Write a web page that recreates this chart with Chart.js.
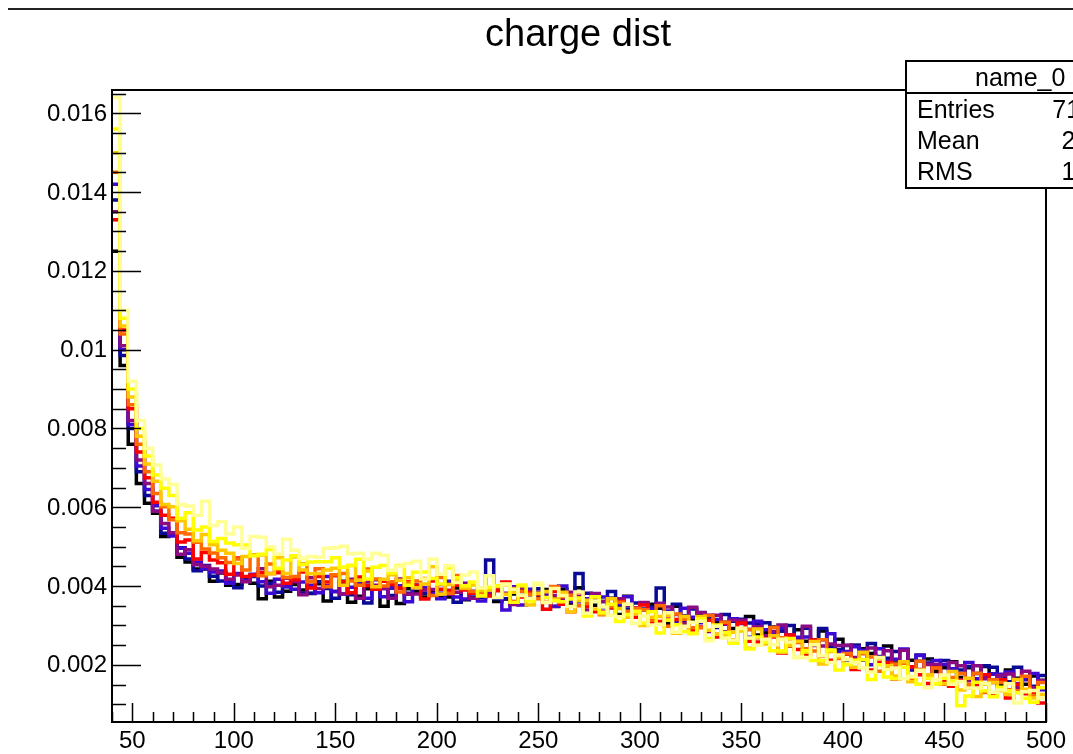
<!DOCTYPE html>
<html>
<head>
<meta charset="utf-8">
<title>charge dist</title>
<script src="https://cdn.jsdelivr.net/npm/chart.js@4/dist/chart.umd.min.js"></script>
<style>
    html, body { margin: 0; padding: 0; background: #ffffff; }
    #chargeChart { display: block; }
</style>
</head>
<body>
<canvas id="chargeChart" width="1073" height="754"></canvas>
<script>
// ===== DATA (bin contents in units of 1e-5, bins of 4 starting at 40) =====

const binStart = 40;
const binEnd = 500;
const binWidth = 4;

const xTicks = [50, 100, 150, 200, 250, 300, 350, 400, 450, 500];
const yTicks = [0.002, 0.004, 0.006, 0.008, 0.01, 0.012, 0.014, 0.016];

const seriesNames = ['h0', 'h1', 'h2', 'h3', 'h4', 'h5', 'h6', 'h7', 'h8'];
const seriesColors = ['#000000', '#0a0a96', '#3c0ad2', '#8c0a82', '#ff0000', '#ff6a00', '#ffc800', '#ffff00', '#ffff96'];

const h0 = [1250, 960, 760, 660, 610,
    585, 526, 531, 473, 461, 443, 443, 412, 433, 402,
    404, 416, 407, 368, 412, 372, 387, 404, 390, 381,
    406, 362, 386, 412, 359, 374, 393, 392, 349, 395,
    356, 393, 387, 372, 388, 371, 372, 395, 365, 369,
    389, 380, 361, 367, 380, 389, 367, 371, 391, 348,
    392, 353, 396, 353, 351, 361, 369, 328, 374, 339,
    340, 354, 344, 305, 349, 324, 315, 331, 314, 308,
    308, 292, 306, 323, 276, 282, 296, 286, 248, 289,
    260, 263, 286, 236, 265, 213, 250, 241, 229, 202,
    248, 205, 205, 212, 209, 215, 183, 193, 208, 168,
    193, 178, 196, 177, 151, 187, 166, 151, 172, 161];

const h1 = [1380, 985, 800, 690, 630,
    590, 534, 533, 497, 469, 439, 452, 425, 413, 412,
    396, 423, 424, 400, 407, 384, 398, 416, 382, 382,
    411, 394, 369, 406, 378, 412, 357, 397, 394, 376,
    395, 382, 399, 382, 377, 382, 389, 359, 407, 372,
    371, 466, 368, 368, 389, 376, 371, 393, 374, 371,
    382, 365, 432, 382, 365, 345, 386, 351, 342, 357,
    342, 347, 395, 325, 354, 307, 342, 333, 321, 295,
    328, 311, 316, 306, 303, 307, 275, 286, 300, 261,
    293, 254, 292, 246, 239, 249, 249, 212, 254, 221,
    217, 234, 238, 187, 225, 205, 192, 211, 190, 187,
    196, 161, 198, 194, 172, 157, 194, 168, 146, 173];

const h2 = [1420, 1000, 810, 705, 645,
    604, 547, 527, 496, 483, 461, 444, 436, 438, 407,
    432, 414, 430, 411, 382, 417, 399, 392, 410, 402,
    383, 424, 386, 380, 397, 405, 369, 416, 373, 395,
    401, 360, 403, 396, 381, 368, 412, 372, 367, 387,
    362, 394, 397, 339, 398, 352, 392, 384, 376, 349,
    400, 360, 360, 368, 367, 372, 345, 355, 373, 332,
    356, 341, 356, 337, 308, 344, 321, 307, 326, 315,
    303, 317, 305, 270, 311, 289, 277, 294, 276, 270,
    271, 253, 264, 279, 232, 234, 246, 237, 200, 241,
    210, 214, 240, 191, 224, 174, 211, 201, 190, 162,
    206, 165, 167, 177, 176, 182, 152, 162, 178, 137];

const h3 = [1350, 1010, 820, 720, 660,
    590, 559, 535, 481, 492, 454, 450, 443, 434, 417,
    428, 411, 426, 444, 398, 402, 420, 411, 378, 421,
    394, 401, 427, 380, 417, 369, 410, 402, 394, 369,
    418, 379, 380, 390, 391, 404, 379, 384, 406, 369,
    394, 382, 397, 382, 353, 395, 377, 370, 385, 376,
    369, 384, 373, 339, 381, 361, 349, 368, 351, 345,
    358, 316, 356, 347, 328, 305, 346, 332, 285, 326,
    284, 313, 313, 290, 297, 274, 285, 301, 263, 262,
    298, 249, 248, 253, 249, 250, 219, 229, 243, 204,
    236, 198, 237, 194, 188, 201, 201, 165, 206, 198,
    160, 198, 165, 155, 173, 177, 142, 184, 142, 160];

const h4 = [1330, 1050, 850, 740, 675,
    613, 580, 572, 512, 517, 469, 485, 466, 459, 430,
    471, 424, 428, 434, 432, 434, 407, 416, 436, 395,
    424, 410, 427, 411, 383, 423, 401, 392, 412, 404,
    395, 411, 402, 367, 413, 392, 389, 402, 390, 382,
    389, 375, 388, 410, 361, 372, 384, 380, 341, 387,
    354, 335, 383, 348, 335, 334, 345, 361, 323, 321,
    352, 308, 310, 316, 315, 317, 288, 296, 313, 271,
    305, 264, 306, 260, 258, 267, 271, 230, 276, 239,
    226, 263, 223, 212, 225, 227, 188, 230, 187, 206,
    206, 164, 204, 195, 175, 153, 193, 157, 146, 161,
    142, 148, 175, 128, 162, 116, 151, 127, 130, 103];

const h5 = [1450, 1040, 860, 760, 690,
    635, 601, 568, 535, 532, 511, 494, 484, 472, 460,
    469, 441, 479, 426, 456, 442, 422, 424, 456, 411,
    444, 398, 429, 432, 413, 402, 443, 418, 400, 411,
    385, 409, 413, 419, 376, 422, 382, 427, 394, 386,
    383, 394, 398, 404, 394, 387, 379, 368, 359, 399,
    373, 377, 350, 356, 371, 327, 348, 359, 336, 344,
    340, 313, 350, 298, 329, 316, 294, 294, 325, 278,
    308, 259, 289, 290, 269, 256, 295, 269, 248, 257,
    241, 235, 264, 236, 216, 229, 213, 229, 220, 184,
    193, 202, 204, 161, 209, 172, 192, 151, 168, 178,
    150, 179, 130, 162, 155, 137, 134, 171, 122, 155];

const h6 = [1500, 1060, 880, 780, 710,
    666, 607, 601, 566, 544, 515, 531, 505, 491, 483,
    457, 475, 478, 479, 431, 472, 432, 474, 441, 431,
    432, 441, 445, 402, 452, 415, 438, 398, 417, 429,
    415, 421, 396, 405, 449, 380, 404, 415, 395, 403,
    389, 390, 401, 379, 384, 400, 352, 382, 386, 367,
    384, 335, 363, 364, 342, 330, 368, 343, 321, 330,
    300, 321, 323, 326, 280, 323, 281, 323, 288, 278,
    275, 283, 286, 242, 291, 253, 274, 232, 250, 260,
    232, 259, 202, 234, 220, 201, 194, 232, 182, 216,
    198, 172, 208, 157, 187, 175, 152, 153, 183, 136,
    166, 120, 151, 155, 134, 125, 163, 138, 116, 125];

const h7 = [1560, 1080, 900, 800, 730,
    682, 648, 630, 572, 586, 542, 550, 513, 521, 509,
    505, 504, 477, 481, 493, 445, 466, 477, 455, 461,
    462, 462, 472, 448, 452, 468, 418, 448, 452, 433,
    452, 402, 435, 436, 419, 405, 446, 421, 401, 410,
    375, 397, 400, 404, 359, 403, 362, 406, 371, 363,
    360, 367, 370, 324, 373, 333, 354, 310, 328, 336,
    306, 335, 281, 314, 302, 285, 279, 317, 267, 301,
    282, 255, 292, 240, 271, 258, 236, 236, 267, 219,
    236, 211, 211, 238, 187, 201, 211, 213, 163, 200,
    169, 165, 194, 170, 151, 166, 152, 166, 159, 96,
    121, 156, 134, 119, 143, 134, 129, 115, 105, 142];

const h8 = [1640, 1100, 920, 820, 750,
    707, 672, 658, 607, 603, 580, 615, 554, 563, 532,
    550, 496, 526, 524, 500, 481, 519, 491, 470, 475,
    473, 496, 497, 501, 482, 483, 469, 483, 478, 440,
    450, 457, 463, 418, 469, 430, 452, 409, 428, 436,
    395, 426, 371, 405, 392, 376, 369, 408, 358, 394,
    376, 348, 385, 331, 362, 347, 325, 322, 354, 305,
    324, 301, 303, 332, 283, 298, 308, 311, 261, 298,
    268, 263, 293, 268, 250, 265, 251, 265, 258, 220,
    219, 251, 224, 206, 225, 214, 206, 192, 181, 219,
    188, 192, 165, 171, 186, 142, 163, 174, 151, 158,
    141, 141, 153, 130, 136, 152, 103, 132, 135, 116];

const allSeries = [h0, h1, h2, h3, h4, h5, h6, h7, h8];

// ===== LAYOUT =====

const FONT = '"Liberation Sans", Arial, Helvetica, sans-serif';
const frame = { left: 112, top: 90, right: 1046, bottom: 722 };

// bin contents -> step points at the low edge of each bin, closed at binEnd
function toSteps(values) {
    const pts = values.map((v, i) => ({ x: binStart + i * binWidth, y: v / 1e5 }));
    pts.push({ x: binEnd, y: values[values.length - 1] / 1e5 });
    return pts;
}

function fmtY(v) {
    return String(parseFloat(v.toFixed(3)));
}

// ROOT style frame, ticks, labels, title and stats box
const rootStyle = {
    id: 'rootStyle',
    afterDatasetsDraw(chart) {
        const ctx = chart.ctx;
        const xs = chart.scales.x;
        const ys = chart.scales.y;
        const a = chart.chartArea;
        ctx.save();

        // canvas border line at the top
        ctx.strokeStyle = '#222';
        ctx.lineWidth = 2;
        ctx.beginPath();
        ctx.moveTo(8, 9);
        ctx.lineTo(1073, 9);
        ctx.stroke();

        // frame
        ctx.strokeStyle = '#000';
        ctx.lineWidth = 2;
        ctx.strokeRect(a.left, a.top, a.right - a.left, a.bottom - a.top);

        // x ticks
        ctx.lineWidth = 1.5;
        ctx.beginPath();
        for (let v = 40; v <= 500; v += 10) {
            const px = Math.round(xs.getPixelForValue(v)) + 0.5;
            const len = v % 50 === 0 ? 19 : 10;
            ctx.moveTo(px, a.bottom);
            ctx.lineTo(px, a.bottom - len);
        }
        ctx.stroke();

        // y ticks (minor every 0.0005)
        ctx.beginPath();
        for (let k = 1; k <= 33; k++) {
            const v = k * 0.0005;
            if (v < ys.min || v > ys.max) continue;
            const py = Math.round(ys.getPixelForValue(v)) + 0.5;
            const len = k % 4 === 0 ? 29 : 14;
            ctx.moveTo(a.left, py);
            ctx.lineTo(a.left + len, py);
        }
        ctx.stroke();

        // tick labels
        ctx.fillStyle = '#000';
        ctx.font = '24px ' + FONT;
        ctx.textAlign = 'right';
        ctx.textBaseline = 'middle';
        yTicks.forEach(v => ctx.fillText(fmtY(v), a.left - 5, ys.getPixelForValue(v) + 1));
        ctx.textAlign = 'center';
        ctx.textBaseline = 'alphabetic';
        xTicks.forEach(v => ctx.fillText(String(v), xs.getPixelForValue(v), 748));

        // title
        ctx.font = '38px ' + FONT;
        ctx.fillText('charge dist', 578, 46);

        // stats box (runs off the right edge like the original)
        const bx = 906, by = 61, bw = 240, bh = 127;
        ctx.fillStyle = '#fff';
        ctx.fillRect(bx, by, bw, bh);
        ctx.strokeStyle = '#000';
        ctx.lineWidth = 2;
        ctx.strokeRect(bx, by, bw, bh);
        ctx.beginPath();
        ctx.moveTo(bx, 93);
        ctx.lineTo(bx + bw, 93);
        ctx.stroke();
        ctx.fillStyle = '#000';
        ctx.font = '25px ' + FONT;
        ctx.textAlign = 'left';
        ctx.fillText('name_0', 975, 86);
        ctx.fillText('Entries', 917, 118);
        ctx.fillText('Mean', 917, 149);
        ctx.fillText('RMS', 917, 180);
        ctx.textAlign = 'right';
        ctx.fillText('71136', 1120, 118);
        ctx.fillText('228.4', 1124, 149);
        ctx.fillText('129.7', 1124, 180);
        ctx.restore();
    }
};

// ===== CHART =====

function initChargeChart() {
    const ctx = document.getElementById('chargeChart');
    const datasets = allSeries.map((vals, i) => ({
        label: seriesNames[i],
        data: toSteps(vals),
        borderColor: seriesColors[i],
        backgroundColor: seriesColors[i],
        borderWidth: 3.5,
        stepped: true,
        pointRadius: 0,
        fill: false,
        order: allSeries.length - i
    }));
    window.chargeChart = new Chart(ctx, {
        type: 'line',
        data: { datasets },
        options: {
            responsive: false,
            animation: false,
            devicePixelRatio: 1,
            layout: { padding: { left: frame.left, top: frame.top, right: 1073 - frame.right, bottom: 754 - frame.bottom } },
            scales: {
                x: { type: 'linear', min: binStart, max: binEnd, display: false },
                y: { type: 'linear', min: 0.00055, max: 0.01659, display: false }
            },
            plugins: { legend: { display: false }, tooltip: { enabled: false }, title: { display: false } }
        },
        plugins: [rootStyle]
    });
}

document.addEventListener('DOMContentLoaded', initChargeChart);
</script>
</body>
</html>
